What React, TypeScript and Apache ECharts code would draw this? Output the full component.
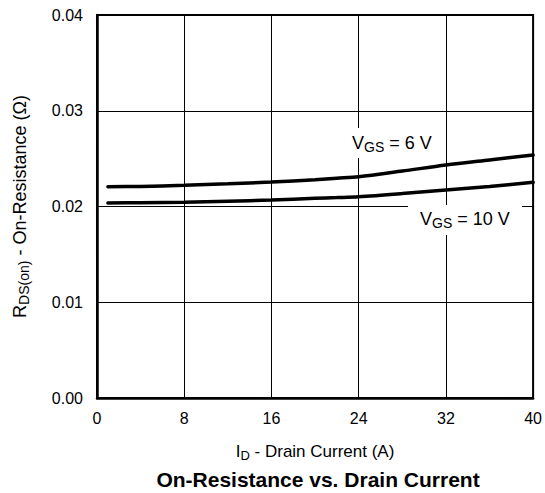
import React, { useEffect, useRef } from "react";
import * as echarts from "echarts";

const currents = [1, 4, 8, 12, 16, 20, 22, 24, 28, 32, 36, 40];
const vgs6 = [0.02207, 0.0221, 0.02222, 0.02238, 0.02256, 0.0228, 0.02295, 0.0231, 0.0237, 0.02433, 0.02486, 0.02538];
const vgs10 = [0.02037, 0.0204, 0.02044, 0.02055, 0.02068, 0.02085, 0.02093, 0.02102, 0.02135, 0.02172, 0.0221, 0.02253];
const xTicks = { min: 0, max: 40, interval: 8 };
const yTicks = { min: 0, max: 0.04, interval: 0.01 };
const title = "On-Resistance vs. Drain Current";

const FONT = "Liberation Sans";

export default function App() {
  const ref = useRef<HTMLDivElement>(null);
  useEffect(() => {
    const chart = echarts.init(ref.current!, null, { renderer: "svg" });
    const sub = (size: number, lh: number) => ({
      norm: { fontSize: size, fontFamily: FONT, color: "#000", lineHeight: lh, verticalAlign: "middle" },
      sub: { fontSize: Math.round(size * 0.75), fontFamily: FONT, color: "#000", verticalAlign: "bottom" },
    });
    chart.setOption({
      animation: false,
      backgroundColor: "#fff",
      textStyle: { fontFamily: FONT },
      title: {
        text: title,
        left: 313,
        top: 464,
        textAlign: "center",
        textStyle: { fontFamily: FONT, fontSize: 21, fontWeight: "bold", color: "#000" },
      },
      grid: {
        left: 97,
        right: 8,
        top: 15,
        bottom: 95,
        show: true,
        borderColor: "#000",
        borderWidth: 2,
        backgroundColor: "transparent",
      },
      xAxis: {
        type: "value",
        min: xTicks.min,
        max: xTicks.max,
        interval: xTicks.interval,
        axisLine: { show: true, lineStyle: { color: "#000", width: 2.5 } },
        axisTick: { show: false },
        splitLine: { show: true, lineStyle: { color: "#000", width: 1 } },
        axisLabel: { color: "#000", fontSize: 16, fontFamily: FONT, margin: 12 },
        name: "{norm|I}{sub|D}{norm| - Drain Current (A)}",
        nameLocation: "middle",
        nameGap: 42,
        nameTextStyle: { rich: sub(17, 22) },
      },
      yAxis: {
        type: "value",
        min: yTicks.min,
        max: yTicks.max,
        interval: yTicks.interval,
        axisLine: { show: true, lineStyle: { color: "#000", width: 2.5 } },
        axisTick: { show: false },
        splitLine: { show: true, lineStyle: { color: "#000", width: 1 } },
        axisLabel: {
          color: "#000",
          fontSize: 16,
          fontFamily: FONT,
          margin: 14,
          formatter: (v: number) => v.toFixed(2),
        },
        name: "{norm|R}{sub|DS(on)}{norm| - On-Resistance (Ω)}",
        nameLocation: "middle",
        nameGap: 66,
        nameTextStyle: { rich: sub(18, 22) },
      },
      graphic: [
        {
          type: "rect",
          shape: { x: 345, y: 128, width: 95, height: 30 },
          style: { fill: "#fff" },
          z: 50,
        },
        {
          type: "text",
          x: 352,
          y: 143,
          z: 51,
          style: {
            text: "{norm|V}{sub|GS}{norm| = 6 V}",
            rich: sub(18, 22),
            verticalAlign: "middle",
          },
        },
        {
          type: "rect",
          shape: { x: 408, y: 205, width: 114, height: 30 },
          style: { fill: "#fff" },
          z: 50,
        },
        {
          type: "text",
          x: 420,
          y: 219,
          z: 51,
          style: {
            text: "{norm|V}{sub|GS}{norm| = 10 V}",
            rich: sub(18, 22),
            verticalAlign: "middle",
          },
        },
      ],
      series: [
        {
          name: "VGS = 6 V",
          type: "line",
          data: currents.map((c, i) => [c, vgs6[i]]),
          smooth: 0.3,
          symbol: "none",
          lineStyle: { color: "#000", width: 3.5, cap: "round" },
          z: 5,
        },
        {
          name: "VGS = 10 V",
          type: "line",
          data: currents.map((c, i) => [c, vgs10[i]]),
          smooth: 0.3,
          symbol: "none",
          lineStyle: { color: "#000", width: 3.5, cap: "round" },
          z: 5,
        },
      ],
    });
    return () => chart.dispose();
  }, []);
  return (
    <div
      ref={ref}
      style={{ position: "fixed", left: 0, top: 0, width: 545, height: 493 }}
    />
  );
}
